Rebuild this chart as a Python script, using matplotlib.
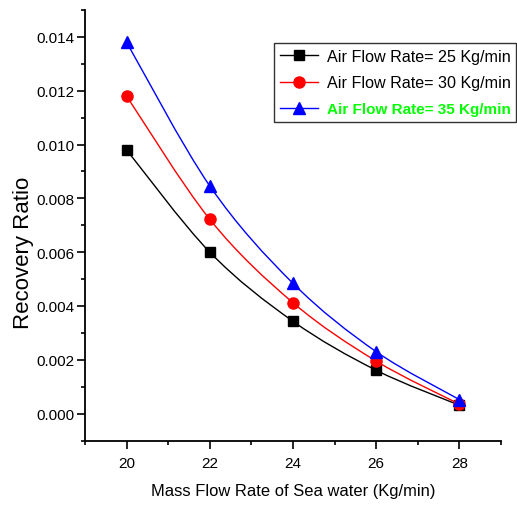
import matplotlib
matplotlib.use("Agg")
import matplotlib.pyplot as plt
from matplotlib.path import Path
from matplotlib.patches import PathPatch
from matplotlib.lines import Line2D
from matplotlib.ticker import MultipleLocator, FormatStrFormatter
import numpy as np

# ---- data ----
mass_flow = [20, 22, 24, 26, 28]
ratio_25 = [0.0098, 0.0060, 0.00343, 0.00161, 0.00031]
ratio_30 = [0.0118, 0.00722, 0.00412, 0.00195, 0.00035]
ratio_35 = [0.0138, 0.00846, 0.00484, 0.0023, 0.00052]
series_labels = ["Air Flow Rate= 25 Kg/min", "Air Flow Rate= 30 Kg/min", "Air Flow Rate= 35 Kg/min"]
x_label = "Mass Flow Rate of Sea water (Kg/min)"
y_label = "Recovery Ratio"

plt.rcParams['font.family'] = ['Liberation Sans', 'DejaVu Sans']

fig = plt.figure(figsize=(5.17, 5.06), dpi=100)
ax = fig.add_axes([85/517, 1-441.5/506, (501-85)/517, (441.5-11)/506])


def smooth_path(xs, ys):
    P = np.column_stack([xs, ys]).astype(float)
    n = len(P)
    verts = [P[0]]
    codes = [Path.MOVETO]
    for i in range(n - 1):
        p_prev = P[i - 1] if i > 0 else P[i]
        p_next2 = P[i + 2] if i + 2 < n else P[i + 1]
        c1 = P[i] + (P[i + 1] - p_prev) / 6.0
        c2 = P[i + 1] - (p_next2 - P[i]) / 6.0
        verts += [c1, c2, P[i + 1]]
        codes += [Path.CURVE4] * 3
    return Path(verts, codes)


styles = [("black", "s", 7), ("red", "o", 8), ("blue", "^", 8.5)]
handles = []
for ys, (c, m, ms) in zip([ratio_25, ratio_30, ratio_35], styles):
    ax.add_patch(PathPatch(smooth_path(mass_flow, ys), fill=False, edgecolor=c, lw=1.0, zorder=2))
    ax.plot(mass_flow, ys, linestyle="none", marker=m, color=c, ms=ms, zorder=3)
    handles.append(Line2D([], [], color=c, lw=1.0, marker=m, ms=ms))

ax.set_xlim(19, 29)
ax.set_ylim(-0.001, 0.015)
ax.xaxis.set_minor_locator(MultipleLocator(1))
ax.yaxis.set_minor_locator(MultipleLocator(0.001))
ax.set_xticks([20, 22, 24, 26, 28])
ax.set_yticks([0.000, 0.002, 0.004, 0.006, 0.008, 0.010, 0.012, 0.014])
ax.yaxis.set_major_formatter(FormatStrFormatter("%.3f"))

for s in ["top", "right"]:
    ax.spines[s].set_visible(False)
for s in ["left", "bottom"]:
    ax.spines[s].set_linewidth(1.3)

ax.tick_params(axis="both", which="major", direction="out", length=6, width=1.2, labelsize=11)
ax.tick_params(axis="both", which="minor", direction="out", length=3, width=1.2)
ax.tick_params(axis="y", which="major", pad=1.5)
ax.tick_params(axis="x", which="major", pad=5)

ax.set_xlabel(x_label, fontsize=11.9)
ax.xaxis.set_label_coords(0.5, -0.098)
ax.set_ylabel(y_label, fontsize=16)
ax.yaxis.set_label_coords(-0.122, 0.439)

leg = ax.legend(handles, series_labels, loc="upper left", bbox_to_anchor=(274/517, 1-44/506),
                bbox_transform=fig.transFigure, frameon=True, fancybox=False, framealpha=1,
                edgecolor="#333333", borderpad=0.36, handlelength=2.35, handletextpad=0.55,
                labelspacing=0.72, borderaxespad=0, prop={"size": 11.6})
leg.get_frame().set_linewidth(1.0)
t3 = leg.get_texts()[2]
t3.set_color("#00ff00")
t3.set_fontweight("bold")
t3.set_fontsize(11.0)

fig.savefig("out.png", dpi=100)
